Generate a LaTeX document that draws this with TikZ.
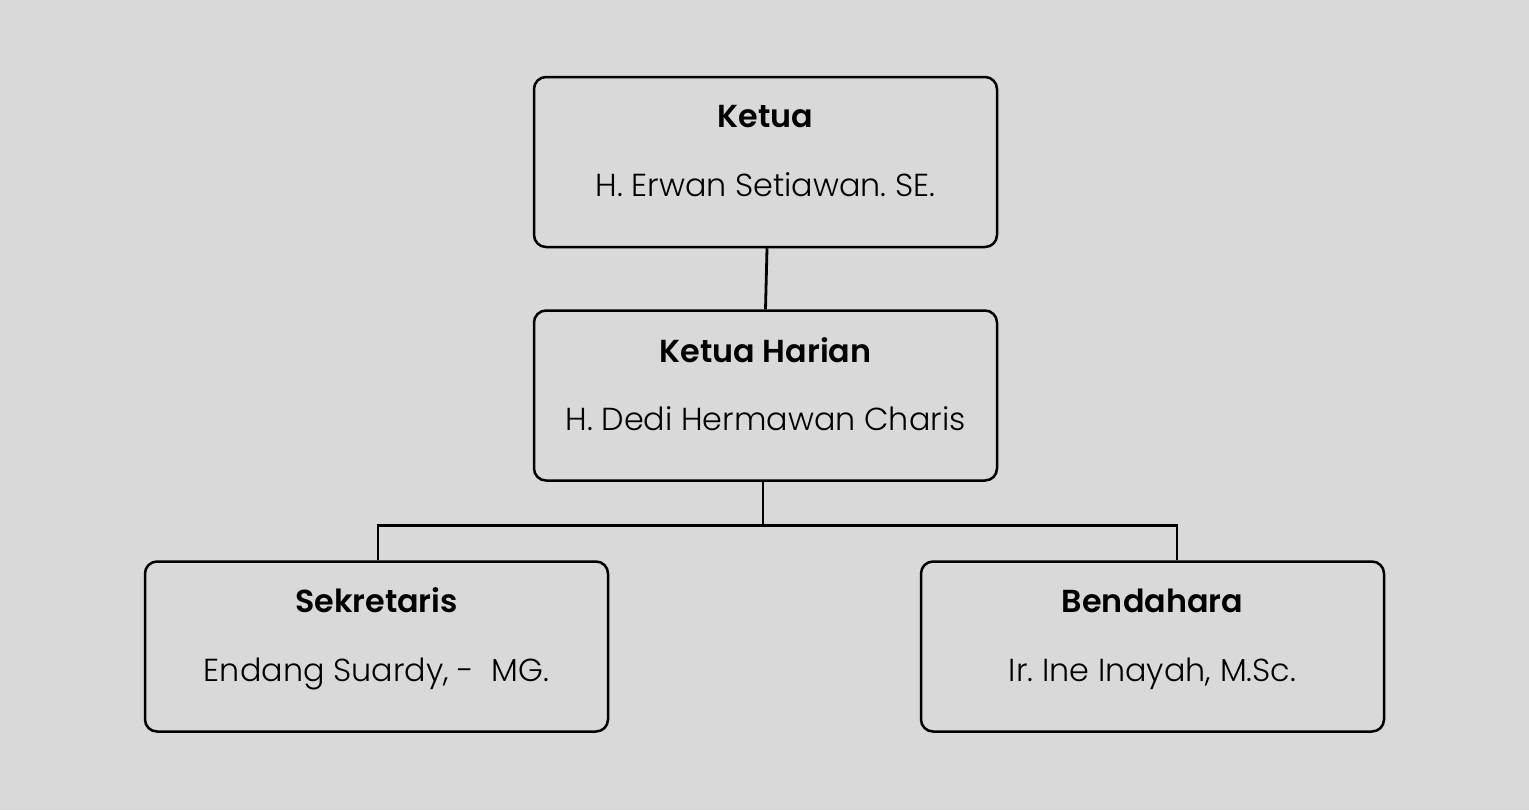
\documentclass[tikz,border=0pt]{standalone}
\usepackage{fontspec}
\setmainfont{Poppins}[BoldFont={Poppins SemiBold}]
\newfontfamily\tipis{Poppins Light}
\usetikzlibrary{positioning}
\definecolor{latar}{HTML}{D9D9D9}
\frenchspacing

\tikzset{
  jabatan/.style={draw=black, line width=1.25pt, rounded corners=6pt,
    minimum width=231.5pt, minimum height=85pt, inner sep=0pt},
  judul/.style={font=\fontsize{15.9}{18}\selectfont\bfseries, anchor=base},
  nama/.style={font=\fontsize{15.9}{18}\selectfont\tipis, anchor=base},
  garis/.style={line width=1.4pt}
}

\begin{document}
\begin{tikzpicture}[x=0.5pt,y=-0.5pt]
		%%%%% LATAR %%%%%
		\fill[latar] (0,0) rectangle (1529,810);
		\useasboundingbox (0,0) rectangle (1529,810);
		
		%%%%% KOTAK %%%%%
		\node[jabatan] (ketua) at (765.5,162) {};
		\node[jabatan] (harian) at (765.5,395.5) {};
		\node[jabatan] (sekre) at (376.5,646.5) {};
		\node[jabatan] (benda) at (1152.5,646.5) {};
		
		%%%%% TEKS %%%%%
		\node[judul] (ketuaJ) at ([yshift=-26pt]ketua.north) {Ketua};
		\node[nama] (ketuaN) at ([yshift=-60.5pt]ketua.north) {H. Erwan Setiawan. SE.};
		\node[judul] (harianJ) at ([yshift=-26.5pt]harian.north) {Ketua Harian};
		\node[nama] (harianN) at ([yshift=-60.5pt]harian.north) {H. Dedi Hermawan Charis};
		\node[judul] (sekreJ) at ([yshift=-26pt]sekre.north) {Sekretaris};
		\node[nama] (sekreN) at ([yshift=-60.5pt]sekre.north) {Endang Suardy, -~~MG.};
		\node[judul] (bendaJ) at ([yshift=-26pt]benda.north) {Bendahara};
		\node[nama] (bendaN) at ([yshift=-60.5pt]benda.north) {Ir. Ine Inayah, M.Sc.};
		
		%%%%% GARIS %%%%%
		\draw[garis] ([xshift=0.75pt]ketua.south) -- (harian.north);
		\coordinate (cabang) at ([xshift=-1.25pt,yshift=-22pt]harian.south);
		\draw[garis] ([xshift=-1.25pt]harian.south) -- (cabang);
		\draw[garis] (cabang) -| ([xshift=0.75pt]sekre.north);
		\draw[garis] (cabang) -| ([xshift=12.25pt]benda.north);
		
\end{tikzpicture}
\end{document}
